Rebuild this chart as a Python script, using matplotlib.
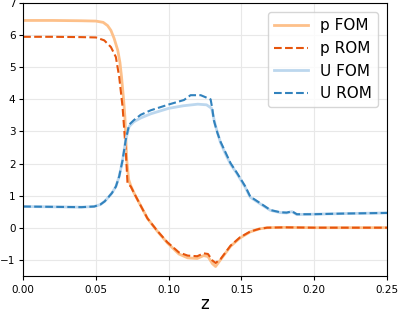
import numpy as np
import matplotlib
matplotlib.use("Agg")
import matplotlib.pyplot as plt

# pressure, full order model vs reduced order model
z_p_fom = [0, 0.02, 0.04, 0.05, 0.055, 0.058, 0.0603, 0.0625, 0.065, 0.0665, 0.0676, 0.069, 0.0699,
           0.0712, 0.0725, 0.074, 0.0763, 0.08, 0.0854, 0.092, 0.099, 0.107, 0.113, 0.1196, 0.124,
           0.127, 0.130, 0.1322, 0.1356, 0.1425, 0.149, 0.156, 0.162, 0.1676, 0.18, 0.2, 0.25]
p_fom = [6.46, 6.46, 6.45, 6.44, 6.4, 6.3, 6.15, 5.9, 5.53, 5.15, 4.7, 4.0, 3.46,
         2.1, 1.5, 1.3, 1.07, 0.75, 0.29, -0.1, -0.47, -0.82, -0.94, -0.96, -0.87,
         -0.9, -1.12, -1.21, -1.0, -0.58, -0.32, -0.13, -0.04, 0.0, 0.01, 0.0, 0.0]

z_p_rom = [0, 0.02, 0.04, 0.05, 0.0557, 0.0603, 0.0637, 0.066, 0.0683, 0.0705, 0.0717, 0.074,
           0.0763, 0.08, 0.0854, 0.092, 0.099, 0.107, 0.113, 0.1196, 0.124, 0.127, 0.130, 0.1322,
           0.1356, 0.1425, 0.149, 0.156, 0.162, 0.1676, 0.18, 0.2, 0.25]
p_rom = [5.95, 5.95, 5.94, 5.93, 5.84, 5.63, 5.32, 4.7, 3.77, 2.4, 1.39, 1.28,
         1.07, 0.75, 0.29, -0.09, -0.45, -0.77, -0.87, -0.89, -0.8, -0.82, -1.02, -1.1,
         -0.98, -0.56, -0.3, -0.12, -0.04, 0.0, 0.01, 0.0, 0.0]

# velocity
z_u_fom = [0, 0.02, 0.04, 0.0488, 0.053, 0.056, 0.058, 0.061, 0.0637, 0.066, 0.0683, 0.0705,
           0.0728, 0.076, 0.0808, 0.0877, 0.100, 0.110, 0.120, 0.126, 0.1295, 0.132, 0.1356,
           0.139, 0.1425, 0.147, 0.1527, 0.156, 0.163, 0.1699, 0.1767, 0.181, 0.1847, 0.188,
           0.1995, 0.22, 0.25]
u_fom = [0.66, 0.65, 0.64, 0.66, 0.72, 0.82, 0.92, 1.08, 1.28, 1.6, 2.1, 2.74,
         3.15, 3.3, 3.42, 3.55, 3.72, 3.8, 3.85, 3.83, 3.72, 3.2, 2.65,
         2.3, 1.98, 1.68, 1.25, 0.95, 0.74, 0.54, 0.47, 0.46, 0.5, 0.41,
         0.42, 0.44, 0.46]

z_u_rom = [0, 0.02, 0.04, 0.0488, 0.053, 0.056, 0.058, 0.061, 0.0637, 0.066, 0.0683, 0.0705,
           0.0728, 0.076, 0.0808, 0.0877, 0.100, 0.1105, 0.115, 0.122, 0.1288, 0.130, 0.131,
           0.1335, 0.1356, 0.139, 0.1425, 0.147, 0.1527, 0.156, 0.163, 0.1699, 0.1767, 0.181,
           0.1847, 0.188, 0.1995, 0.22, 0.25]
u_rom = [0.66, 0.65, 0.64, 0.66, 0.72, 0.82, 0.92, 1.08, 1.28, 1.6, 2.1, 2.74,
         3.21, 3.35, 3.52, 3.66, 3.84, 3.98, 4.13, 4.13, 4.0, 3.7, 3.35,
         2.95, 2.68, 2.35, 2.01, 1.7, 1.28, 0.97, 0.76, 0.55, 0.48, 0.47,
         0.51, 0.42, 0.42, 0.44, 0.46]

fig = plt.figure(figsize=(3.99, 3.12), dpi=100)
ax = fig.add_axes([0.058, 0.116, 0.912, 0.874])

ax.plot(z_p_fom, p_fom, color="#fdc08a", lw=2.0, label="p FOM")
ax.plot(z_p_rom, p_rom, color="#e6550d", lw=1.5, ls="--", label="p ROM")
ax.plot(z_u_fom, u_fom, color="#bcd7ee", lw=2.0, label="U FOM")
ax.plot(z_u_rom, u_rom, color="#3182bd", lw=1.5, ls="--", label="U ROM")

ax.set_xlim(0, 0.25)
ax.set_ylim(-1.5, 7)
ax.set_xticks([0, 0.05, 0.10, 0.15, 0.20, 0.25])
ax.set_yticks([-1, 0, 1, 2, 3, 4, 5, 6, 7])
ax.tick_params(labelsize=7.5, length=3)
ax.tick_params(axis="y", pad=2.5)
ax.grid(True, color="#e8e8e8", lw=0.8)
ax.set_xlabel("z", fontsize=12, labelpad=0)
ax.legend(loc="upper right", fontsize=11, handlelength=2.2, borderaxespad=0.6)

fig.savefig("out.png", dpi=100)
